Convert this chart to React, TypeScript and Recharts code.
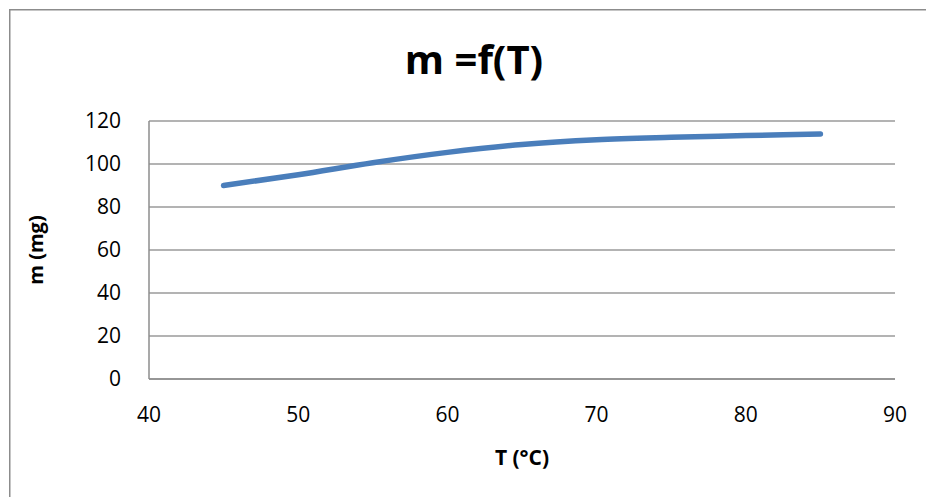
import React from "react";
import { LineChart, Line, XAxis, YAxis, CartesianGrid } from "recharts";

const temperatures = [45, 50, 55, 60, 65, 70, 75, 80, 85];
const masses = [90, 95, 100.6, 105.4, 109.1, 111.3, 112.4, 113.2, 114];
const xTicks = [40, 50, 60, 70, 80, 90];
const yTicks = [0, 20, 40, 60, 80, 100, 120];

const data = temperatures.map((t, i) => ({ t, m: masses[i] }));

const FONT = "'Open Sans', 'Noto Sans', sans-serif";

export default function App() {
  return (
    <div style={{ position: "fixed", left: 0, top: 0, width: 926, height: 497, overflow: "hidden", background: "#fff" }}>
      <svg width={926} height={497} style={{ position: "absolute", left: 0, top: 0 }}>
        <path d="M9.75 497 L9.75 9.75 L926 9.75" fill="none" stroke="#8c8c8c" strokeWidth={1.5} />
      </svg>
      <div
        style={{
          position: "absolute",
          left: 0,
          width: 948,
          top: 35,
          textAlign: "center",
          fontFamily: FONT,
          fontWeight: 700,
          fontSize: 40,
          lineHeight: "48px",
          color: "#000",
        }}
      >
        m =f(T)
      </div>
      <div style={{ position: "absolute", left: 0, top: 0 }}>
        <LineChart
          width={926}
          height={497}
          data={data}
          margin={{ top: 121, right: 31, bottom: 28, left: 89 }}
        >
          <CartesianGrid vertical={false} stroke="#9a9a9a" strokeWidth={1.5} />
          <XAxis
            dataKey="t"
            type="number"
            domain={[40, 90]}
            ticks={xTicks}
            interval={0}
            tickLine={false}
            axisLine={{ stroke: "#8c8c8c", strokeWidth: 1.5 }}
            tick={{ fill: "#000", fontSize: 21, fontFamily: FONT }}
            tickMargin={22}
            height={90}
            label={{
              value: "T (°C)",
              position: "insideBottom",
              offset: 4,
              fill: "#000",
              fontSize: 21,
              fontWeight: 700,
              fontFamily: FONT,
            }}
          />
          <YAxis
            type="number"
            domain={[0, 120]}
            ticks={yTicks}
            interval={0}
            tickLine={false}
            axisLine={{ stroke: "#8c8c8c", strokeWidth: 1.5 }}
            tick={{ fill: "#000", fontSize: 21, fontFamily: FONT }}
            tickMargin={22}
            width={60}
            label={{
              value: "m (mg)",
              angle: -90,
              position: "insideLeft",
              offset: -53,
              style: { textAnchor: "middle" },
              fill: "#000",
              fontSize: 20,
              fontWeight: 700,
              fontFamily: FONT,
            }}
          />
          <Line
            type="monotone"
            dataKey="m"
            stroke="#4a7ebb"
            strokeWidth={5.5}
            strokeLinecap="round"
            dot={false}
            activeDot={false}
            isAnimationActive={false}
          />
        </LineChart>
      </div>
    </div>
  );
}
